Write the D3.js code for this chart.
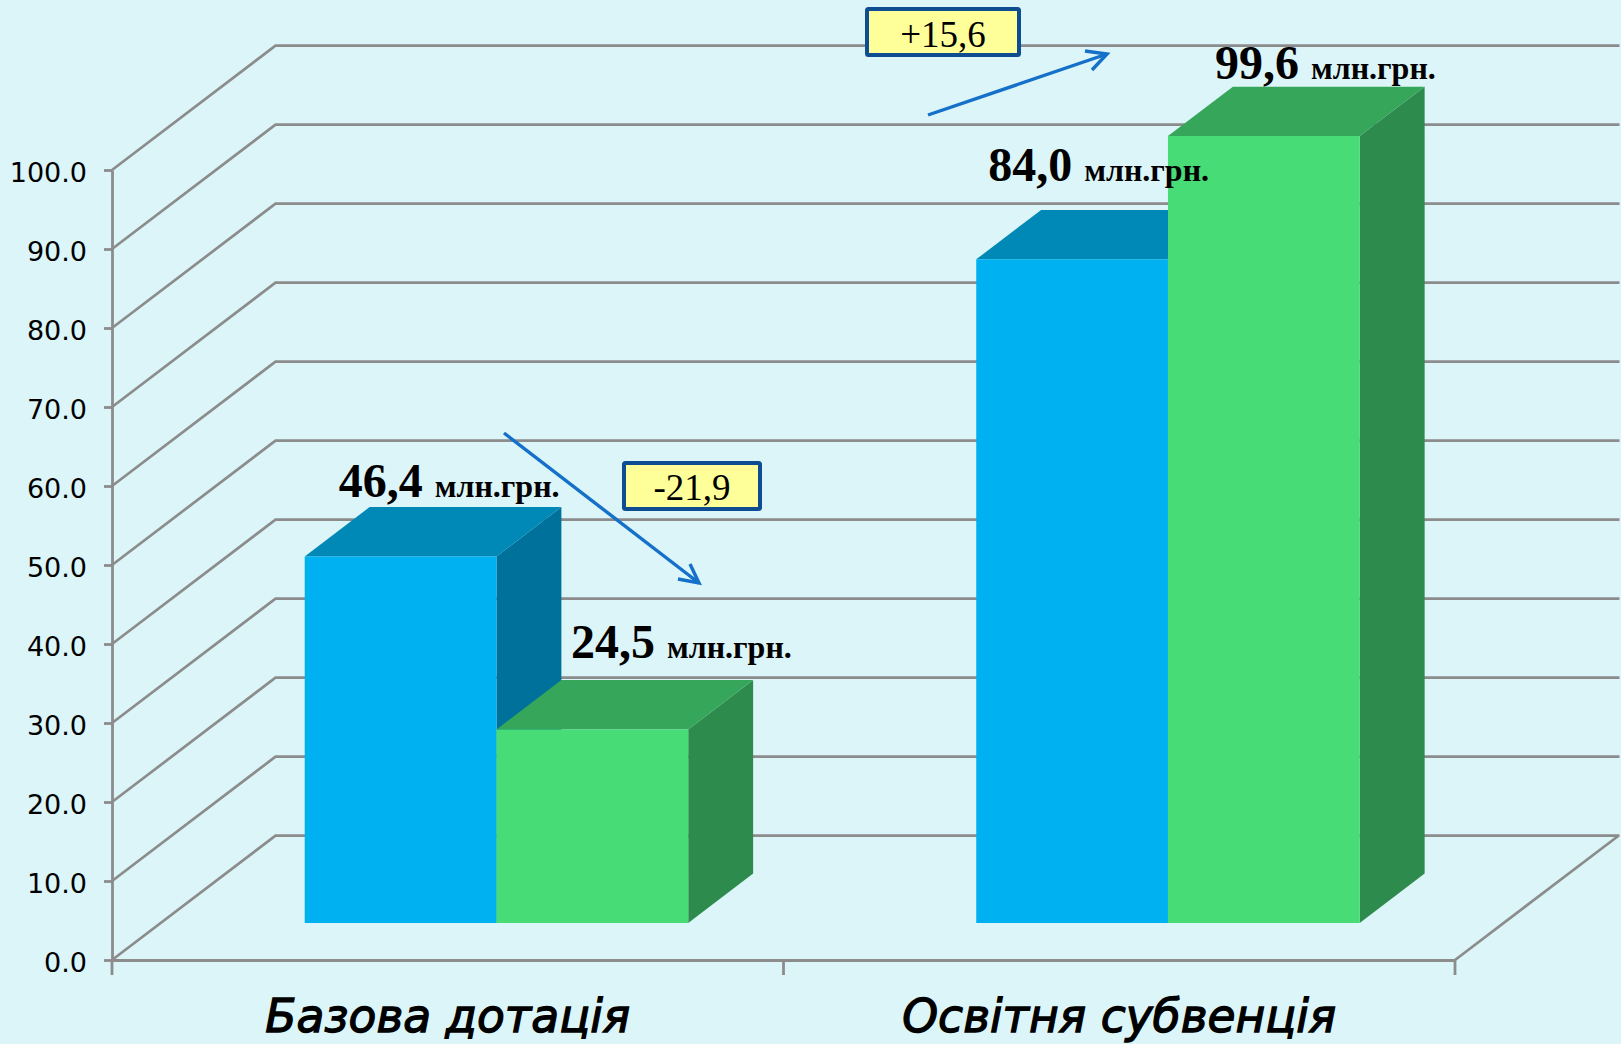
<!DOCTYPE html>
<html>
<head>
<meta charset="utf-8">
<script src="https://cdn.jsdelivr.net/npm/d3@7"></script>
<style>
  html, body { margin: 0; padding: 0; background: #dcf5f9; overflow: hidden; }
  svg { display: block; }
</style>
</head>
<body>
<div id="chart"></div>
<script>
// chart values
const categories = ["Базова дотація", "Освітня субвенція"];
const seriesBlue = [46.4, 84.0];
const seriesGreen = [24.5, 99.6];
const yTicks = [0, 10, 20, 30, 40, 50, 60, 70, 80, 90, 100];
const unitLabel = "млн.грн.";
const changeLabels = ["-21,9", "+15,6"];

// layout
const width = 1621, height = 1044;
const wallDx = 163.5, wallDy = 124.3;   // how far the back wall sits from the front edge
const barZ0 = 0.298, barZ1 = 0.695;     // front and back of a bar, as a share of the depth
const barInset = 144;

const colors = {
  bg: "#dcf5f9", grid: "#8c8c8c", arrow: "#1470c8", boxFill: "#ffff99", boxLine: "#0f4d92"
};
const blue = {front: "#00b1f1", top: "#0088b6", side: "#00719b"};
const green = {front: "#48dc76", top: "#35a65a", side: "#2d8b4d"};

const svg = d3.select("#chart").append("svg")
  .attr("width", width)
  .attr("height", height);

svg.append("rect").attr("width", width).attr("height", height).attr("fill", colors.bg);

// scales
const yScale = d3.scaleLinear().domain([0, 100]).range([960, 170]);
const xScale = d3.scaleBand().domain(categories).range([112, 1455]);
const xInner = d3.scaleBand().domain([0, 1]).range([barInset, xScale.bandwidth() - barInset]);

// projects a chart position (x on the front edge, value, depth 0..1) to the screen
function project(x, v, z) {
  return [x + wallDx * z, yScale(v) - wallDy * z];
}

////////////////////////////////////////////////////////////////////////
// Walls and floor

const line = d3.line();
const grid = svg.append("g").attr("fill", "none").attr("stroke", colors.grid);

grid.selectAll("path.wall")
  .data(yTicks)
  .enter()
  .append("path")
  .attr("class", "wall")
  .attr("stroke-width", 2.7)
  .attr("d", d => line([[112, yScale(d)], project(112, d, 1), [1619.5, yScale(d) - wallDy]]));

// right edge of the floor
grid.append("path")
  .attr("stroke-width", 2.7)
  .attr("d", line([[1455, yScale(0)], project(1455, 0, 1)]));

////////////////////////////////////////////////////////////////////////
// Axes

const yAxis = svg.append("g")
  .attr("transform", "translate(112,0)")
  .call(d3.axisLeft(yScale).tickValues(yTicks).tickFormat(d3.format(".1f")).tickSize(8).tickSizeOuter(0).tickPadding(17));
yAxis.select(".domain").attr("stroke", colors.grid).attr("stroke-width", 2.8);
yAxis.selectAll("line").attr("stroke", colors.grid).attr("stroke-width", 2.8);
yAxis.selectAll("text")
  .attr("font-family", "'DejaVu Sans'")
  .attr("font-size", 27)
  .attr("dy", "0.42em")
  .attr("fill", "#000");

const xAxis = svg.append("g")
  .attr("transform", `translate(0,${yScale(0)})`)
  .call(d3.axisBottom(xScale).tickSize(0).tickPadding(40));
xAxis.select(".domain").attr("stroke", colors.grid).attr("stroke-width", 3);
xAxis.selectAll("text")
  .attr("font-family", "'DejaVu Sans'")
  .attr("font-style", "italic")
  .attr("font-weight", "normal")
  .attr("font-size", 45.5)
  .attr("stroke", "#000")
  .attr("stroke-width", 1.3)
  .attr("fill", "#000");

// ticks sit between the categories, not on them
const edges = [xScale.range()[0], xScale(categories[1]), xScale.range()[1]];
svg.append("g")
  .selectAll("line")
  .data(edges)
  .enter()
  .append("line")
  .attr("x1", d => d)
  .attr("x2", d => d)
  .attr("y1", yScale(0))
  .attr("y2", yScale(0) + 15)
  .attr("stroke", colors.grid)
  .attr("stroke-width", 2.8);

////////////////////////////////////////////////////////////////////////
// 3D bars

const bars = [];
categories.forEach((c, i) => {
  bars.push({category: c, s: 0, value: seriesBlue[i], palette: blue});
  bars.push({category: c, s: 1, value: seriesGreen[i], palette: green});
});

const barX = d => xScale(d.category) + xInner(d.s);
const poly = pts => line(pts) + "Z";

const barG = svg.append("g")
  .selectAll("g")
  .data(bars)
  .enter()
  .append("g");

barG.append("path")   // side
  .attr("fill", d => d.palette.side)
  .attr("d", d => {
    let x = barX(d) + xInner.bandwidth();
    return poly([project(x, 0, barZ0), project(x, 0, barZ1), project(x, d.value, barZ1), project(x, d.value, barZ0)]);
  });

barG.append("path")   // top
  .attr("fill", d => d.palette.top)
  .attr("d", d => {
    let x = barX(d), x2 = x + xInner.bandwidth();
    return poly([project(x, d.value, barZ0), project(x2, d.value, barZ0), project(x2, d.value, barZ1), project(x, d.value, barZ1)]);
  });

barG.append("path")   // front
  .attr("fill", d => d.palette.front)
  .attr("d", d => {
    let x = barX(d), x2 = x + xInner.bandwidth();
    return poly([project(x, 0, barZ0), project(x2, 0, barZ0), project(x2, d.value, barZ0), project(x, d.value, barZ0)]);
  });

////////////////////////////////////////////////////////////////////////
// Value labels, placed by hand relative to each bar's top back edge

const labelOffsets = [[-31, -10], [9.5, -22], [-53, -29], [-18, -8]];
const commaFormat = v => d3.format(".1f")(v).replace(".", ",");

const labels = svg.append("g")
  .attr("font-family", "'Liberation Serif'")
  .attr("font-weight", "bold")
  .attr("fill", "#000")
  .selectAll("text")
  .data(bars)
  .enter()
  .append("text")
  .attr("x", (d, i) => project(barX(d), d.value, barZ1)[0] + labelOffsets[i][0])
  .attr("y", (d, i) => project(barX(d), d.value, barZ1)[1] + labelOffsets[i][1]);

labels.append("tspan").attr("font-size", 48).text(d => commaFormat(d.value));
labels.append("tspan").attr("font-size", 32).attr("dx", 12).text(unitLabel);

////////////////////////////////////////////////////////////////////////
// Change callouts and arrows

const arrowG = svg.append("g")
  .attr("fill", "none")
  .attr("stroke", colors.arrow)
  .attr("stroke-width", 3.4);

const arrowPaths = [
  [[504, 433], [699, 583]],
  [[928, 115], [1107, 54]]
];
const arrowBarbs = [
  [[690, 564], [699, 583], [678, 579]],
  [[1085, 51], [1107, 54], [1092, 70]]
];
arrowPaths.forEach(p => arrowG.append("path").attr("d", line(p)));
arrowBarbs.forEach(p => arrowG.append("path").attr("d", line(p)));

const boxes = [
  {x: 624, y: 463, w: 136, h: 46},
  {x: 867, y: 9, w: 152, h: 46}
];

const boxG = svg.append("g")
  .selectAll("g")
  .data(boxes)
  .enter()
  .append("g");

boxG.append("rect")
  .attr("x", d => d.x)
  .attr("y", d => d.y)
  .attr("width", d => d.w)
  .attr("height", d => d.h)
  .attr("rx", 1.5)
  .attr("fill", colors.boxFill)
  .attr("stroke", colors.boxLine)
  .attr("stroke-width", 4);

boxG.append("text")
  .attr("x", d => d.x + d.w / 2)
  .attr("y", (d, i) => d.y + d.h / 2 + (i == 0 ? 14 : 15))
  .attr("text-anchor", "middle")
  .attr("font-family", "'Liberation Serif'")
  .attr("font-size", 37)
  .attr("fill", "#000")
  .text((d, i) => changeLabels[i]);
</script>
</body>
</html>
